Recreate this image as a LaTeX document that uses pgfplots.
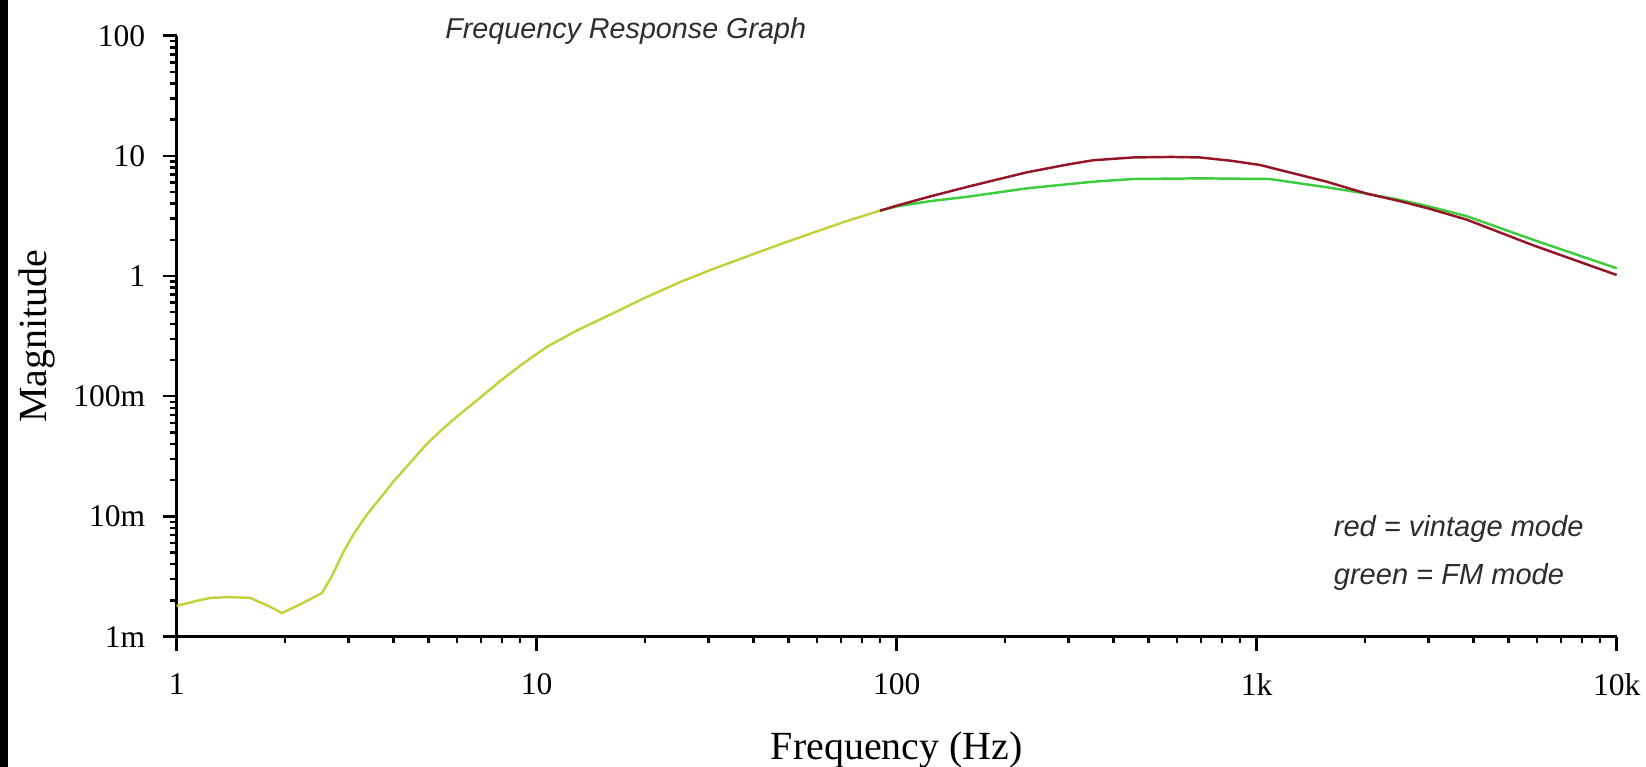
\documentclass[border=0pt]{standalone}
\usepackage{fontspec}
\setmainfont{Liberation Serif}
\newfontfamily\arialfont{Liberation Sans}
\usepackage{pgfplots}
\pgfplotsset{compat=1.18}

\definecolor{vintage}{RGB}{150,20,40}
\definecolor{fmgreen}{RGB}{60,205,60}
\definecolor{shared}{RGB}{195,210,60}
\definecolor{notegray}{RGB}{45,45,45}

\begin{document}
\begin{tikzpicture}
\begin{axis}[
  name=main,
  scale only axis,
  width=411.2pt, height=171.6pt,
  xmode=log, ymode=log,
  xmin=1, xmax=10000, ymin=0.001, ymax=100,
  axis lines=left,
  axis line style={-, line width=0.8pt},
  tick align=outside,
  major tick length=4pt,
  minor tick length=1.9pt,
  tick style={black, line width=0.7pt},
  xtick={1,10,100,1000,10000},
  xticklabels={1,10,100,1k,10k},
  ytick={0.001,0.01,0.1,1,10,100},
  yticklabels={1m,10m,100m,1,10,100},
  ticklabel style={font=\fontsize{9}{10}\selectfont},
  xticklabel style={yshift=-3pt},
  yticklabel style={xshift=-1.5pt},
  xlabel={Frequency (Hz)},
  ylabel={Magnitude},
  label style={font=\fontsize{11.4}{13}\selectfont},
  xlabel style={at={(axis description cs:0.5,-0.1894)}, anchor=center},
  ylabel style={at={(axis description cs:-0.0973,0.5)}, anchor=center},
  clip=false,
]
% common part of both responses (the two curves lie on top of each other)
\addplot[shared, line width=0.7pt] coordinates {
  (1,0.0018) (1.11,0.00195) (1.24,0.0021) (1.4,0.00213) (1.6,0.0021)
  (1.8,0.0018) (1.96,0.00157) (2.2,0.00185) (2.53,0.0023) (2.7,0.0032)
  (2.9,0.0050) (3.09,0.0070) (3.37,0.0103) (3.7,0.0145) (4.0,0.0195)
  (4.5,0.029) (4.95,0.040) (5.5,0.054) (6.12,0.071) (6.96,0.097)
  (7.9,0.133) (9,0.180) (10.7,0.259) (13,0.355) (16.3,0.49) (20,0.66)
  (25,0.89) (31,1.15) (38.3,1.45) (47,1.82) (58.7,2.3) (73,2.88) (89.9,3.5)
};
% green = FM mode
\addplot[fmgreen, line width=0.7pt] coordinates {
  (89.9,3.5) (100,3.8) (124,4.2) (160,4.6) (230,5.37) (352,6.1)
  (454,6.42) (700,6.5) (1088,6.42) (1564,5.48) (2022,4.85) (2500,4.3)
  (3000,3.8) (3830,3.15) (5870,2.0) (10000,1.16)
};
% red = vintage mode
\addplot[vintage, line width=0.7pt] coordinates {
  (89.9,3.5) (100,3.85) (124,4.6) (160,5.6) (230,7.3) (300,8.5)
  (352,9.2) (454,9.7) (580,9.8) (696,9.7) (850,9.1) (1021,8.4)
  (1564,6.1) (2022,4.85) (2500,4.2) (3000,3.65) (3830,2.95)
  (5870,1.8) (10000,1.02)
};
\node[anchor=west, text=notegray, font=\arialfont\itshape\fontsize{8.2}{10}\selectfont]
  at (axis description cs:0.178,1.007) {Frequency Response Graph};
\node[anchor=west, text=notegray, font=\arialfont\itshape\fontsize{8.3}{10}\selectfont]
  at (axis description cs:0.795,0.179) {red = vintage mode};
\node[anchor=west, text=notegray, font=\arialfont\itshape\fontsize{8.3}{10}\selectfont]
  at (axis description cs:0.795,0.099) {green = FM mode};
\end{axis}
\pgfresetboundingbox
\path[use as bounding box] ([xshift=-50.45pt,yshift=-37.2pt]main.south west)
  rectangle ([xshift=8.37pt,yshift=10.19pt]main.north east);
\fill[black] ([xshift=-50.45pt,yshift=-37.2pt]main.south west)
  rectangle ([xshift=-48.2pt,yshift=10.19pt]main.north west);
\end{tikzpicture}
\end{document}
